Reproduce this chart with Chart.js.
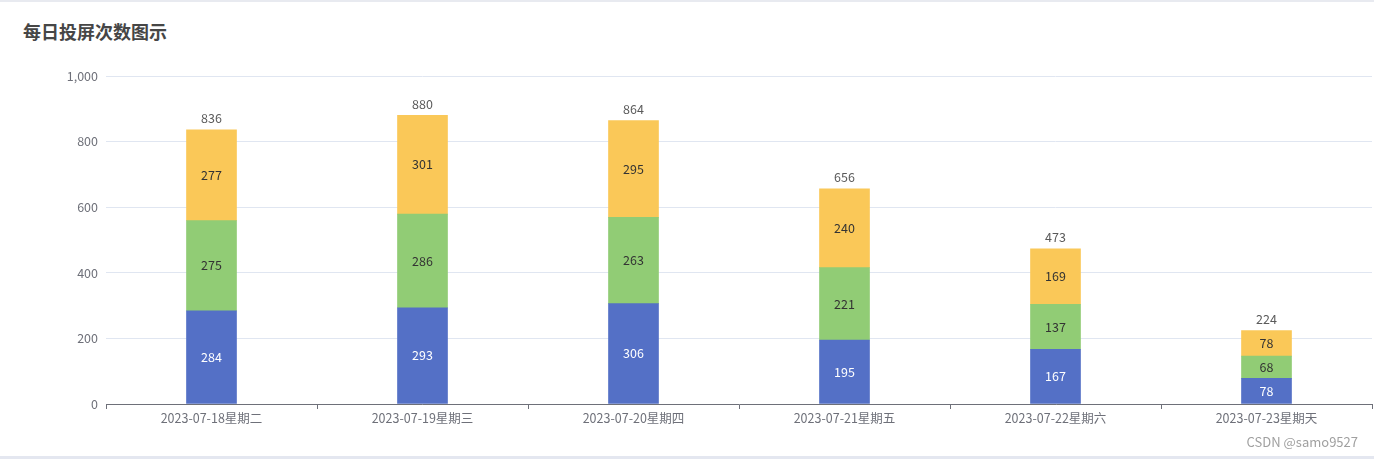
<!DOCTYPE html>
<html>
<head>
<meta charset="utf-8">
<script src="https://cdn.jsdelivr.net/npm/chart.js@4/dist/chart.umd.min.js"></script>
<style>
    html, body { margin: 0; padding: 0; background: #fff; }
    .card {
        position: relative;
        width: 1374px;
        height: 459px;
        box-sizing: border-box;
        border-top: 2px solid #e8eaf0;
        border-bottom: 3px solid #e4e7f0;
        font-family: "Noto Sans CJK SC", "Noto Sans", sans-serif;
    }
    .title {
        position: absolute;
        left: 23px;
        top: 16px;
        font-size: 18px;
        font-weight: bold;
        color: #464646;
    }
    .mark {
        position: absolute;
        right: 16px;
        bottom: 5px;
        font-size: 13px;
        color: #a0a0a0;
    }
    canvas { position: absolute; left: 0; top: -2px; }
</style>
</head>
<body>
<div class="card">
    <div class="title">每日投屏次数图示</div>
    <canvas id="screenChart" width="1374" height="459"></canvas>
    <div class="mark">CSDN @samo9527</div>
</div>
<script>
// Datos
const days = ['2023-07-18星期二', '2023-07-19星期三', '2023-07-20星期四', '2023-07-21星期五', '2023-07-22星期六', '2023-07-23星期天'];
const blueValues = [284, 293, 306, 195, 167, 78];
const greenValues = [275, 286, 263, 221, 137, 68];
const yellowValues = [277, 301, 295, 240, 169, 78];
const yTicks = [0, 200, 400, 600, 800, 1000];

const fontFamily = '"Noto Sans CJK SC", "Noto Sans", sans-serif';
const axisColor = '#6e7079';

// Etiquetas dentro de cada segmento y total encima de la pila
const barLabels = {
    id: 'barLabels',
    afterDatasetsDraw(chart) {
        const ctx = chart.ctx;
        ctx.save();
        ctx.font = '12.5px ' + fontFamily;
        ctx.textAlign = 'center';
        ctx.textBaseline = 'middle';
        chart.data.datasets.forEach((ds, i) => {
            const meta = chart.getDatasetMeta(i);
            meta.data.forEach((bar, j) => {
                ctx.fillStyle = ds.labelColor;
                ctx.fillText(ds.data[j], bar.x, (bar.y + bar.base) / 2);
            });
        });
        const topMeta = chart.getDatasetMeta(chart.data.datasets.length - 1);
        topMeta.data.forEach((bar, j) => {
            const total = chart.data.datasets.reduce((s, ds) => s + ds.data[j], 0);
            ctx.fillStyle = '#5a5a5a';
            ctx.textBaseline = 'bottom';
            ctx.fillText(total, bar.x, bar.y - 5);
        });
        ctx.restore();
    }
};

new Chart(document.getElementById('screenChart'), {
    type: 'bar',
    data: {
        labels: days,
        datasets: [
            { label: 'a', data: blueValues, backgroundColor: '#5470c6', labelColor: '#ffffff', barThickness: 50 },
            { label: 'b', data: greenValues, backgroundColor: '#91cc75', labelColor: '#333333', barThickness: 50 },
            { label: 'c', data: yellowValues, backgroundColor: '#fac858', labelColor: '#333333', barThickness: 50 }
        ]
    },
    options: {
        responsive: false,
        animation: false,
        layout: { padding: { top: 76, right: 2, left: 0, bottom: 0 } },
        plugins: {
            legend: { display: false },
            tooltip: { enabled: false }
        },
        scales: {
            x: {
                stacked: true,
                afterFit: (scale) => { scale.height = 55; },
                border: { display: true, color: axisColor, width: 1 },
                grid: { offset: true, drawOnChartArea: false, drawTicks: true, tickLength: 5, color: axisColor },
                ticks: { color: axisColor, font: { size: 12.5, family: fontFamily }, padding: 2 }
            },
            y: {
                stacked: true,
                min: 0,
                max: 1000,
                afterFit: (scale) => { scale.width = 106; },
                afterBuildTicks: (scale) => { scale.ticks = yTicks.map(v => ({ value: v })); },
                border: { display: false },
                grid: { color: '#e0e6f1', drawTicks: false },
                ticks: {
                    color: axisColor,
                    padding: 8,
                    font: { size: 12.5, family: fontFamily },
                    callback: (v) => v.toLocaleString('en-US')
                }
            }
        }
    },
    plugins: [barLabels]
});
</script>
</body>
</html>
